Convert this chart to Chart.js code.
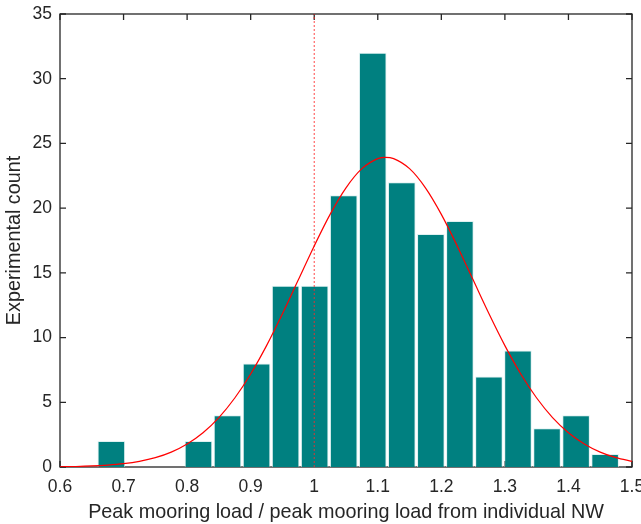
<!DOCTYPE html>
<html>
<head>
<meta charset="utf-8">
<script src="https://cdn.jsdelivr.net/npm/chart.js@4/dist/chart.umd.min.js"></script>
<style>
  html, body { margin: 0; padding: 0; background: #fff; }
</style>
</head>
<body>
<canvas id="histChart" width="641" height="524"></canvas>
<script>
// Гистограмма: центры бинов и количество
const binCenters = [0.6808, 0.7265, 0.7722, 0.8179, 0.8636, 0.9093, 0.9550, 1.0007, 1.0464,
                    1.0921, 1.1378, 1.1835, 1.2292, 1.2749, 1.3206, 1.3663, 1.4120, 1.4577];
const binCounts = [2, 0, 0, 2, 4, 8, 14, 14, 21, 32, 22, 18, 19, 7, 9, 3, 4, 1];

// Нормальная кривая
const fitX = [0.600, 0.625, 0.650, 0.675, 0.700, 0.725, 0.750, 0.775, 0.800, 0.825,
              0.850, 0.875, 0.900, 0.925, 0.950, 0.975, 1.000, 1.025, 1.050, 1.075,
              1.100, 1.1125, 1.125, 1.150, 1.175, 1.200, 1.225, 1.250, 1.275, 1.300, 1.325,
              1.350, 1.375, 1.400, 1.425, 1.450, 1.475, 1.500];
const fitY = [0.02, 0.04, 0.08, 0.15, 0.26, 0.44, 0.72, 1.15, 1.78, 2.65,
              3.82, 5.33, 7.19, 9.38, 11.84, 14.46, 17.08, 19.52, 21.57, 23.05,
              23.83, 23.93, 23.83, 23.05, 21.57, 19.52, 17.08, 14.46, 11.84, 9.38, 7.19,
              5.33, 3.82, 2.65, 1.78, 1.15, 0.72, 0.44];

// Вертикальная линия
const refLineX = 1;

// Подписи осей
const xTicks = [0.6, 0.7, 0.8, 0.9, 1.0, 1.1, 1.2, 1.3, 1.4, 1.5];
const yTicks = [0, 5, 10, 15, 20, 25, 30, 35];

const textColor = '#262626';
const fontFamily = '"Liberation Sans", Arial, sans-serif';

// Рамка и засечки внутрь (как в MATLAB)
const framePlugin = {
    id: 'frame',
    beforeDatasetsDraw(chart) {
        const { ctx, chartArea: a, scales } = chart;
        ctx.save();
        ctx.strokeStyle = textColor;
        ctx.lineWidth = 1.3;
        ctx.strokeRect(a.left, a.top, a.right - a.left, a.bottom - a.top);
        ctx.beginPath();
        xTicks.forEach(v => {
            const px = scales.x.getPixelForValue(v);
            ctx.moveTo(px, a.bottom); ctx.lineTo(px, a.bottom - 6);
            ctx.moveTo(px, a.top); ctx.lineTo(px, a.top + 6);
        });
        yTicks.forEach(v => {
            const py = scales.y.getPixelForValue(v);
            ctx.moveTo(a.left, py); ctx.lineTo(a.left + 6, py);
            ctx.moveTo(a.right, py); ctx.lineTo(a.right - 6, py);
        });
        ctx.stroke();
        ctx.restore();
    }
};

const ctx = document.getElementById('histChart').getContext('2d');
new Chart(ctx, {
    type: 'bar',
    data: {
        datasets: [
            {
                type: 'line',
                data: fitX.map((x, i) => ({ x: x, y: fitY[i] })),
                borderColor: '#ff0000',
                borderWidth: 1.2,
                pointRadius: 0,
                cubicInterpolationMode: 'monotone',
                fill: false,
                order: 1
            },
            {
                type: 'line',
                data: [{ x: refLineX, y: 0 }, { x: refLineX, y: 35 }],
                borderColor: 'rgba(255, 40, 40, 0.85)',
                borderWidth: 1,
                borderDash: [2, 2],
                pointRadius: 0,
                fill: false,
                order: 2
            },
            {
                type: 'bar',
                data: binCenters.map((x, i) => ({ x: x, y: binCounts[i] })),
                backgroundColor: '#008080',
                borderColor: 'rgba(210, 235, 235, 0.7)',
                borderWidth: 1,
                barPercentage: 1,
                categoryPercentage: 0.95,
                order: 3
            }
        ]
    },
    options: {
        responsive: false,
        animation: false,
        layout: { padding: { left: 0, top: 14, right: 9, bottom: 0 } },
        plugins: {
            legend: { display: false },
            tooltip: { enabled: false }
        },
        scales: {
            x: {
                type: 'linear',
                min: 0.6,
                max: 1.5,
                offset: false,
                grid: { display: false, drawTicks: false },
                border: { display: false },
                afterBuildTicks: s => { s.ticks = xTicks.map(v => ({ value: v })); },
                ticks: {
                    padding: 10,
                    color: textColor,
                    font: { family: fontFamily, size: 17.5 },
                    maxRotation: 0,
                    autoSkip: false,
                    callback: v => String(parseFloat(Number(v).toFixed(2)))
                },
                title: {
                    display: true,
                    text: 'Peak mooring load / peak mooring load from individual NW',
                    color: textColor,
                    font: { family: fontFamily, size: 19.8 },
                    padding: { top: 0, bottom: 0 }
                },
                afterFit: s => { s.height = 57; s.paddingLeft = 0; s.paddingRight = 0; }
            },
            y: {
                min: 0,
                max: 35,
                grid: { display: false, drawTicks: false },
                border: { display: false },
                afterBuildTicks: s => { s.ticks = yTicks.map(v => ({ value: v })); },
                ticks: {
                    padding: 8,
                    color: textColor,
                    font: { family: fontFamily, size: 17.5 }
                },
                title: {
                    display: true,
                    text: 'Experimental count',
                    color: textColor,
                    font: { family: fontFamily, size: 19.8 },
                    padding: { top: 3, bottom: 0 }
                },
                afterFit: s => { s.width = 60; s.paddingTop = 0; s.paddingBottom = 0; }
            }
        }
    },
    plugins: [framePlugin]
});
</script>
</body>
</html>
